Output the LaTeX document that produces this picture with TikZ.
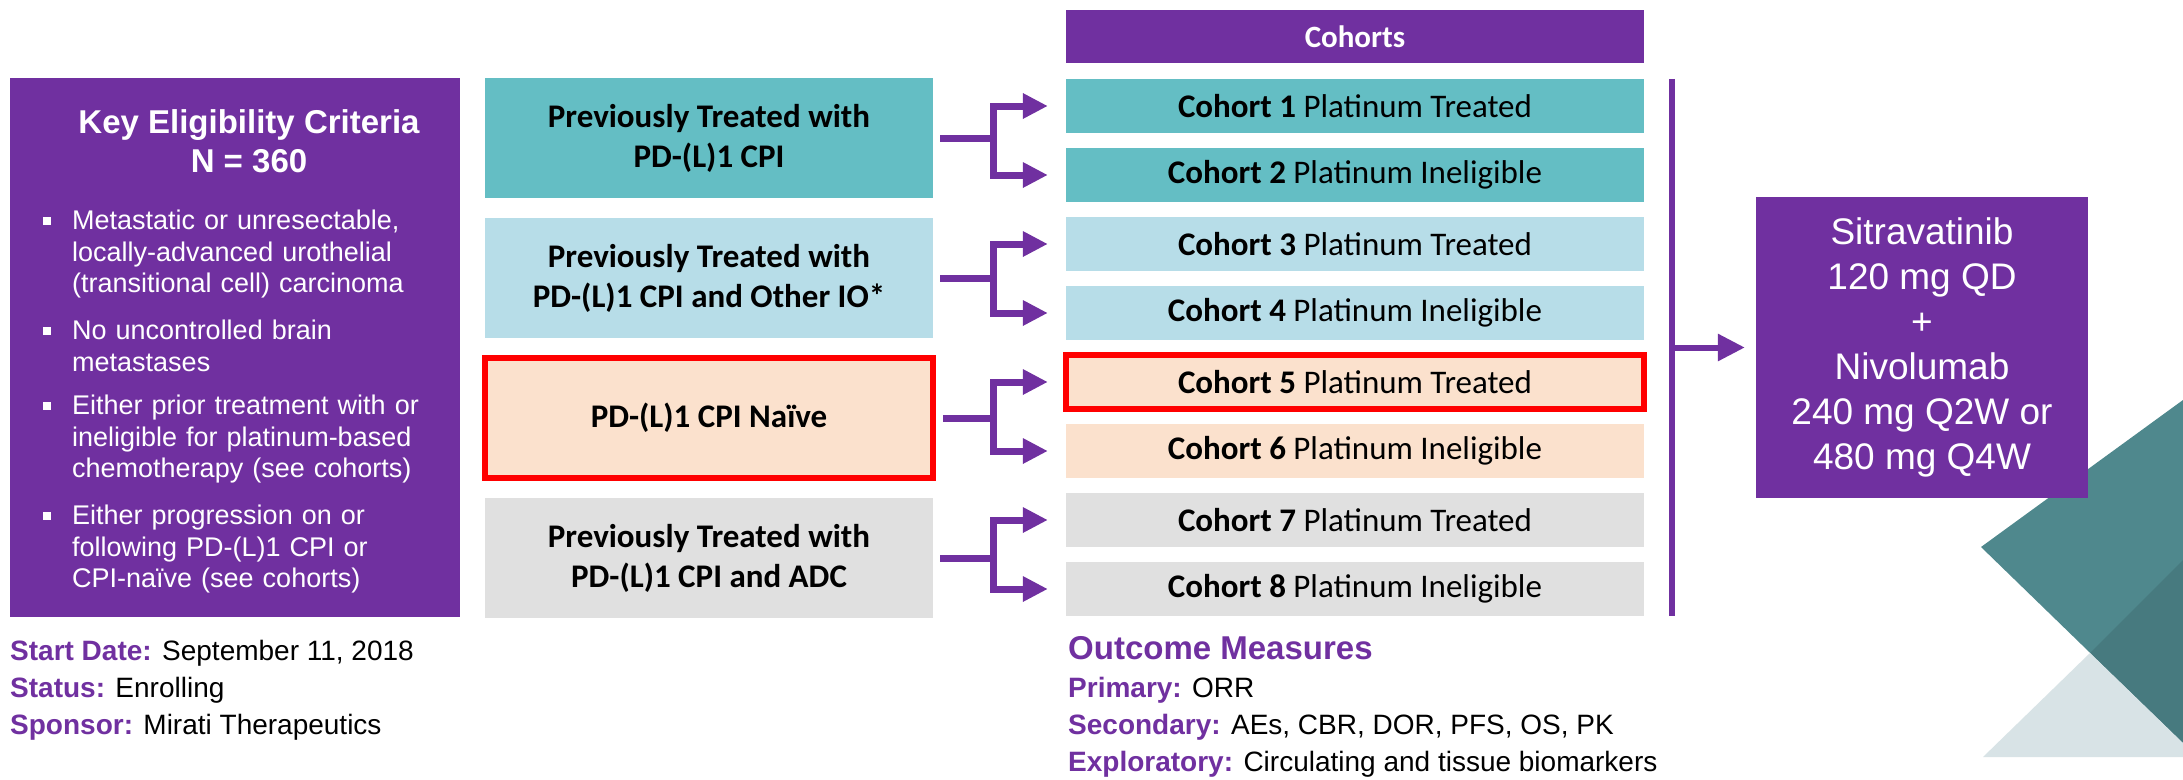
\documentclass[tikz,border=0pt]{standalone}
\usepackage{fontspec}
\setmainfont{Liberation Sans}
\newfontfamily\carl{Carlito}
\usetikzlibrary{arrows.meta}
\definecolor{purp}{HTML}{7030A0}
\definecolor{tealbox}{HTML}{64BEC4}
\definecolor{bluebox}{HTML}{B7DDE8}
\definecolor{peachbox}{HTML}{FBE1CD}
\definecolor{greybox}{HTML}{E0E0E0}
\definecolor{decoA}{HTML}{4F888D}
\definecolor{decoB}{HTML}{477A7F}
\definecolor{decoC}{HTML}{D8E3E6}
\newcommand{\critmark}{\llap{\rule[5pt]{8pt}{8pt}\hspace{21pt}}}

\begin{document}
\begin{tikzpicture}[x=1pt,y=-1pt,
    crit/.style={fill=purp,minimum width=450pt,minimum height=539pt,inner sep=0pt},
    item/.style={anchor=north west,text width=385pt,align=left,inner sep=0pt,text=white,
        font=\fontsize{27}{31.5}\selectfont},
    grp/.style={minimum width=448pt,minimum height=120pt,inner sep=0pt,align=center,
        font=\carl\bfseries\fontsize{33}{40}\selectfont},
    coh/.style={minimum width=578pt,minimum height=54pt,inner sep=0pt,
        font=\carl\fontsize{33}{40}\selectfont},
    hilite/.style={draw=red,line width=6pt},
    link/.style={draw=purp,line width=7pt},
    fork/.style={link,-{Triangle[length=25pt,width=24pt]}}]
    \useasboundingbox (0,0) rectangle (2183,779);
    \fill[white] (0,0) rectangle (2183,779);
    \fill[decoA] (1981,547) -- (2183,400) -- (2183,743) -- cycle;
    \fill[decoB] (2090,653) -- (2183,560) -- (2183,743) -- cycle;
    \fill[decoC] (1983,757) -- (2090,653) -- (2183,743) -- (2183,757) -- cycle;

    \node[crit] (crit) at (235,347.5) {};
    \node[anchor=north,align=center,inner sep=0pt,text=white,
        font=\bfseries\fontsize{33}{39}\selectfont] (title) at (249,109)
        {Key Eligibility Criteria\\N = 360};
    \node[item] (crit1) at (72,210) {\critmark Metastatic or unresectable,\\
        locally-advanced urothelial\\ (transitional cell) carcinoma};
    \node[item] (crit2) at (72,320) {\critmark No uncontrolled brain\\ metastases};
    \node[item] (crit3) at (72,395) {\critmark Either prior treatment with or\\
        ineligible for platinum-based\\ chemotherapy (see cohorts)};
    \node[item] (crit4) at (72,505) {\critmark Either progression on or\\
        following PD-(L)1 CPI or\\ CPI-naïve (see cohorts)};

    \node[grp,fill=tealbox] (g1) at (709,138) {Previously Treated with\\PD-(L)1 CPI};
    \node[grp,fill=bluebox] (g2) at (709,278) {Previously Treated with\\PD-(L)1 CPI and Other IO*};
    \node[grp,fill=peachbox,hilite] (g3) at (709,418) {PD-(L)1 CPI Naïve};
    \node[grp,fill=greybox] (g4) at (709,558) {Previously Treated with\\PD-(L)1 CPI and ADC};

    \node[coh,fill=purp,text=white,minimum height=53pt,
        font=\carl\bfseries\fontsize{31}{37}\selectfont] (head) at (1355,36.5) {Cohorts};
    \foreach \i/\col/\what in {1/tealbox/Treated,2/tealbox/Ineligible,3/bluebox/Treated,
        4/bluebox/Ineligible,5/peachbox/Treated,6/peachbox/Ineligible,
        7/greybox/Treated,8/greybox/Ineligible}
        \node[coh,fill=\col] (c\i) at (1355,{106+69*(\i-1)}) {\textbf{Cohort \i} Platinum \what};
    \draw[hilite] (c5.north west) rectangle (c5.south east);

    \coordinate (fx) at (993,0);
    \foreach \g/\up/\dn in {1/1/2,2/3/4,3/5/6,4/7/8} {
        \draw[fork] ([xshift=7pt]g\g.east) -- (g\g.east -| fx) |- ([xshift=-18pt]c\up.west);
        \draw[fork] ([xshift=7pt]g\g.east) -- (g\g.east -| fx) |- ([xshift=-18pt]c\dn.west);
    }

    \coordinate (bt) at ([xshift=28pt]c1.north east);
    \coordinate (bb) at ([xshift=28pt]c8.south east);
    \draw[link,line width=6pt] (bt) -- (bb);
    \node[fill=purp,text=white,minimum width=332pt,minimum height=301pt,inner sep=0pt,
        align=center,font=\fontsize{37}{45}\selectfont] (drug) at (1922,347.5)
        {Sitravatinib\\120 mg QD\\+\\Nivolumab\\240 mg Q2W or\\480 mg Q4W};
    \draw[link,line width=6pt,-{Triangle[length=27pt,width=26pt]}]
        (bt |- drug.west) -- ([xshift=-11pt]drug.west);

    \node[anchor=north west,align=left,inner sep=0pt,font=\fontsize{28}{37}\selectfont] (info)
        at (10,640) {\textcolor{purp}{\textbf{Start Date:}} September 11, 2018\\
        \textcolor{purp}{\textbf{Status:}} Enrolling\\
        \textcolor{purp}{\textbf{Sponsor:}} Mirati Therapeutics};
    \node[anchor=north west,inner sep=0pt,text=purp,
        font=\bfseries\fontsize{33}{40}\selectfont] (outc) at (1068,636) {Outcome Measures};
    \node[anchor=north west,align=left,inner sep=0pt,font=\fontsize{28}{37}\selectfont] (meas)
        at (1068,677) {\textcolor{purp}{\textbf{Primary:}} ORR\\
        \textcolor{purp}{\textbf{Secondary:}} AEs, CBR, DOR, PFS, OS, PK\\
        \textcolor{purp}{\textbf{Exploratory:}} Circulating and tissue biomarkers};
\end{tikzpicture}
\end{document}
